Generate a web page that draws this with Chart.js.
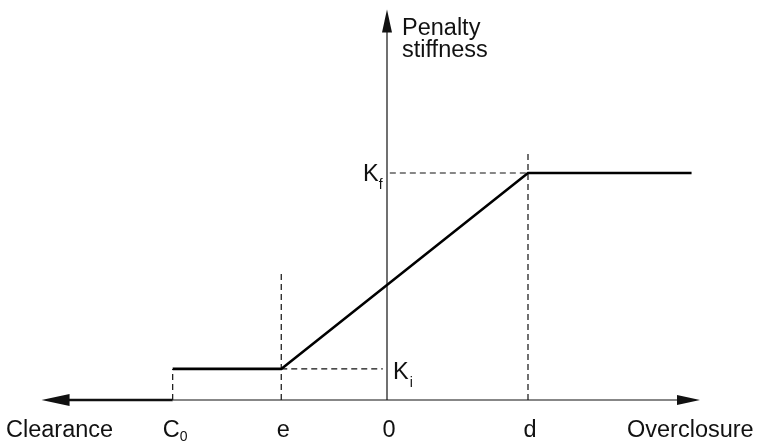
<!DOCTYPE html>
<html>
<head>
<meta charset="utf-8">
<script src="https://cdn.jsdelivr.net/npm/chart.js@4"></script>
<style>
  html, body { margin: 0; padding: 0; background: #fff; }
  #wrap { width: 762px; height: 446px; }
</style>
</head>
<body>
<div id="wrap"><canvas id="chart" width="762" height="446"></canvas></div>
<script>
// marks on the horizontal axis (units: d = 1)
const tickLabels = ['C', 'e', '0', 'd'];
const tickSubs = ['0', '', '', ''];
const tickValues = [-1.52, -0.75, 0, 1.0];

// stiffness levels (units: Kf = 1)
const levelLabels = ['K', 'K'];
const levelSubs = ['i', 'f'];
const levelValues = [0.137, 1.0];

// penalty stiffness curve
const curveX = [-1.52, -0.75, 1.0, 2.16];
const curveY = [0.137, 0.137, 1.0, 1.0];

// tops of the dashed vertical guides at C0, e, d
const guideTops = [0.137, 0.56, 1.10];

// axis extents
const xAxisLeft = -2.45;
const xAxisRight = 2.22;
const yAxisTop = 1.72;

const FONT = '23.5px "Liberation Sans", Arial, Helvetica, sans-serif';
const SUB = '14px "Liberation Sans", Arial, Helvetica, sans-serif';

const dashed = (pts) => ({
    data: pts, showLine: true, borderColor: '#111', borderWidth: 1.2,
    borderDash: [6, 4], pointRadius: 0
});

const datasets = [
    // main curve
    {
        data: curveX.map((x, i) => ({ x, y: curveY[i] })),
        showLine: true, borderColor: '#000', borderWidth: 2.6, pointRadius: 0
    },
    // vertical guides
    dashed([{ x: tickValues[0], y: 0 }, { x: tickValues[0], y: guideTops[0] }]),
    dashed([{ x: tickValues[1], y: 0 }, { x: tickValues[1], y: guideTops[1] }]),
    dashed([{ x: tickValues[3], y: 0 }, { x: tickValues[3], y: guideTops[2] }]),
    // horizontal guides
    dashed([{ x: tickValues[1], y: levelValues[0] }, { x: -0.03, y: levelValues[0] }]),
    dashed([{ x: 0.02, y: levelValues[1] }, { x: tickValues[3], y: levelValues[1] }]),
    // axes: thin overclosure axis, thick clearance arrow, vertical axis
    {
        data: [{ x: tickValues[0], y: 0 }, { x: xAxisRight - 0.15, y: 0 }],
        showLine: true, borderColor: '#111', borderWidth: 1.2, pointRadius: 0
    },
    {
        data: [{ x: xAxisLeft + 0.18, y: 0 }, { x: tickValues[0], y: 0 }],
        showLine: true, borderColor: '#111', borderWidth: 2.6, pointRadius: 0
    },
    {
        data: [{ x: 0, y: 0 }, { x: 0, y: yAxisTop - 0.09 }],
        showLine: true, borderColor: '#111', borderWidth: 1.2, pointRadius: 0
    }
];

const annotate = {
    id: 'annotate',
    afterDatasetsDraw(chart) {
        const { ctx, scales: { x, y } } = chart;
        const px = v => x.getPixelForValue(v);
        const py = v => y.getPixelForValue(v);
        const y0 = py(0);
        ctx.save();
        ctx.fillStyle = '#111';

        // arrowheads
        const tri = (a, b, c) => {
            ctx.beginPath();
            ctx.moveTo(a[0], a[1]); ctx.lineTo(b[0], b[1]); ctx.lineTo(c[0], c[1]);
            ctx.closePath(); ctx.fill();
        };
        const lt = px(xAxisLeft);
        tri([lt, y0], [lt + 28, y0 - 6], [lt + 28, y0 + 6]);
        const rt = px(xAxisRight);
        tri([rt, y0], [rt - 23, y0 - 5], [rt - 23, y0 + 5]);
        const tp = py(yAxisTop);
        const x0 = px(0);
        tri([x0, tp], [x0 - 5, tp + 23], [x0 + 5, tp + 23]);

        // tick labels under the axis
        ctx.textBaseline = 'alphabetic';
        ctx.textAlign = 'left';
        tickLabels.forEach((t, i) => {
            ctx.font = FONT;
            const w = ctx.measureText(t).width;
            let left = px(tickValues[i]) + 2 - w / 2;
            if (tickSubs[i]) left = px(tickValues[i]) - 10;
            ctx.fillText(t, left, y0 + 37);
            if (tickSubs[i]) {
                ctx.font = SUB;
                ctx.fillText(tickSubs[i], left + w, y0 + 41);
            }
        });

        // axis titles
        ctx.font = FONT;
        ctx.fillText('Clearance', 6, y0 + 37);
        ctx.fillText('Overclosure', 627, y0 + 37);
        ctx.fillText('Penalty', x0 + 15, 35);
        ctx.fillText('stiffness', x0 + 15, 57);

        // stiffness level labels
        const ki = py(levelValues[0]);
        ctx.font = FONT;
        ctx.fillText(levelLabels[0], x0 + 6, ki + 10);
        let kw = ctx.measureText(levelLabels[0]).width;
        ctx.font = SUB;
        ctx.fillText(levelSubs[0], x0 + 6 + kw + 1, ki + 18);

        const kf = py(levelValues[1]);
        ctx.font = FONT;
        ctx.fillText(levelLabels[1], x0 - 24, kf + 8);
        kw = ctx.measureText(levelLabels[1]).width;
        ctx.font = SUB;
        ctx.fillText(levelSubs[1], x0 - 24 + kw, kf + 16);

        ctx.restore();
    }
};

new Chart(document.getElementById('chart'), {
    type: 'scatter',
    data: { datasets },
    options: {
        responsive: false,
        animation: false,
        layout: { padding: 0 },
        plugins: { legend: { display: false }, tooltip: { enabled: false } },
        scales: {
            x: { type: 'linear', display: false, min: -387 / 141, max: 375 / 141 },
            y: { type: 'linear', display: false, min: -46 / 227, max: 400 / 227 }
        }
    },
    plugins: [annotate]
});
</script>
</body>
</html>
